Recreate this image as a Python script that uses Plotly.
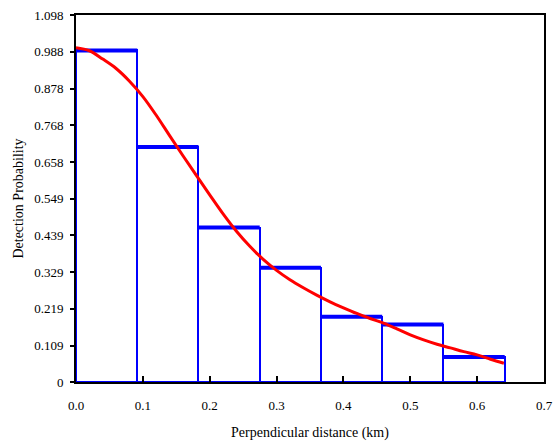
import plotly.graph_objects as go

# histogram of detections (bin edges in km, scaled heights)
bin_edges = [0.0, 0.0916, 0.1832, 0.2748, 0.3664, 0.458, 0.5496, 0.6412]
bar_heights = [0.992, 0.703, 0.462, 0.342, 0.195, 0.172, 0.075]

# fitted detection function
curve_x = [0.00, 0.02, 0.04, 0.06, 0.08, 0.10, 0.12, 0.14, 0.16, 0.18,
           0.20, 0.22, 0.24, 0.26, 0.28, 0.30, 0.32, 0.34, 0.36, 0.38,
           0.40, 0.42, 0.44, 0.46, 0.48, 0.50, 0.52, 0.54, 0.56, 0.58,
           0.60, 0.62, 0.64]
curve_y = [1.000, 0.991, 0.966, 0.938, 0.900, 0.854, 0.798, 0.737, 0.677, 0.618,
           0.560, 0.503, 0.451, 0.406, 0.367, 0.334, 0.306, 0.282, 0.260, 0.240,
           0.222, 0.205, 0.190, 0.176, 0.159, 0.141, 0.126, 0.113, 0.102, 0.091,
           0.081, 0.068, 0.056]

y_tick_labels = ["0", "0.109", "0.219", "0.329", "0.439", "0.549",
                 "0.658", "0.768", "0.878", "0.988", "1.098"]

BLUE = "#0000ff"
RED = "#ff0000"

lefts = bin_edges[:-1]
widths = [b - a for a, b in zip(bin_edges[:-1], bin_edges[1:])]

fig = go.Figure()

# bar outlines
fig.add_trace(go.Bar(
    x=lefts,
    y=bar_heights,
    width=widths,
    offset=0,
    marker=dict(color="rgba(0,0,0,0)", line=dict(color=BLUE, width=2)),
    hoverinfo="skip",
    showlegend=False,
))

# thicker tops of the bars
top_x, top_y = [], []
for a, b, h in zip(bin_edges[:-1], bin_edges[1:], bar_heights):
    top_x += [a, b, None]
    top_y += [h, h, None]
fig.add_trace(go.Scatter(
    x=top_x, y=top_y, mode="lines",
    line=dict(color=BLUE, width=4),
    hoverinfo="skip", showlegend=False,
))

# fitted curve
fig.add_trace(go.Scatter(
    x=curve_x, y=curve_y, mode="lines",
    line=dict(color=RED, width=3, shape="spline", smoothing=1.0),
    showlegend=False,
))

font = dict(family="Liberation Serif, Times New Roman, serif", size=13, color="black")

fig.update_layout(
    width=554,
    height=448,
    margin=dict(l=76, r=10, t=15, b=66),
    paper_bgcolor="white",
    plot_bgcolor="white",
    font=font,
    bargap=0,
)

fig.update_xaxes(
    range=[0, 0.7],
    tickvals=[0, 0.1, 0.2, 0.3, 0.4, 0.5, 0.6, 0.7],
    tickformat=".1f",
    ticks="inside",
    ticklen=6,
    tickwidth=1.5,
    tickcolor="black",
    showline=True,
    linecolor="black",
    linewidth=2,
    mirror=True,
    showgrid=False,
    zeroline=False,
    automargin=False,
    ticklabelstandoff=10,
    ticklabeloverflow="allow",
    title=dict(text="Perpendicular distance (km)", font=dict(size=14), standoff=16),
)

fig.update_yaxes(
    range=[0, 1.098],
    tickvals=[float(t) for t in y_tick_labels],
    ticktext=y_tick_labels,
    ticks="outside",
    ticklen=4,
    tickwidth=2,
    tickcolor="black",
    showline=True,
    linecolor="black",
    linewidth=2,
    mirror=True,
    showgrid=False,
    zeroline=False,
    automargin=False,
    ticklabelstandoff=4,
    ticklabeloverflow="allow",
    title=dict(text="Detection Probability", font=dict(size=14), standoff=7),
)

# drop the default page margin so the figure fills the window exactly
fig.write_html(
    "out.html",
    config={"displayModeBar": False},
    post_script="document.body.style.margin = '0';",
)
